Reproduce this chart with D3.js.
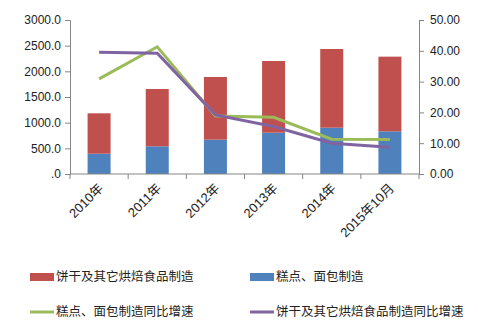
<!DOCTYPE html>
<html><head><meta charset="utf-8">
<script src="https://cdn.jsdelivr.net/npm/d3@7/dist/d3.min.js"></script>
<style>body{margin:0;background:#fff}svg{display:block}text{font-family:"Liberation Sans","Noto Sans CJK SC",sans-serif;fill:#222}</style>
</head><body><svg id="c" width="478" height="334"></svg>
<script>
const categories = ["2010年","2011年","2012年","2013年","2014年","2015年10月"];
const cakeBread = [395, 540, 669, 805, 902, 831];
const biscuitTotal = [1182, 1656, 1890, 2201, 2435, 2286];
const cakeGrowth = [30.9, 41.3, 18.8, 18.4, 11.3, 11.2];
const biscuitGrowth = [39.5, 39.2, 19.2, 15.4, 10.0, 8.7];
const leftTicks = [0,500,1000,1500,2000,2500,3000];
const rightTicks = [0,10,20,30,40,50];
const seriesNames = ["饼干及其它烘焙食品制造","糕点、面包制造","糕点、面包制造同比增速","饼干及其它烘焙食品制造同比增速"];
const colors = {red:"#C0504D", blue:"#4F81BD", green:"#9BBB59", purple:"#8064A2"};

const svg = d3.select("#c");
const xb = d3.scaleBand().domain(categories).range([70,419]);
const yL = d3.scaleLinear().domain([0,3000]).range([174,20]);
const yR = d3.scaleLinear().domain([0,50]).range([174,20]);

// bars
const g = svg.append("g");
categories.forEach((c,i)=>{
  const bx = xb(c)+xb.bandwidth()/2-11.5;
  g.append("rect").attr("x", bx).attr("width",23)
    .attr("y", yL(cakeBread[i])).attr("height", yL(0)-yL(cakeBread[i])).attr("fill",colors.blue);
  g.append("rect").attr("x", bx).attr("width",23)
    .attr("y", yL(biscuitTotal[i])).attr("height", yL(cakeBread[i])-yL(biscuitTotal[i])).attr("fill",colors.red);
});

// axes
const gray = "#868686";
const axL = svg.append("g").attr("transform","translate(70,0)")
  .call(d3.axisLeft(yL).tickValues(leftTicks).tickSize(5).tickPadding(4).tickFormat(d=>d===0?".0":d.toFixed(1)));
const axR = svg.append("g").attr("transform","translate(419,0)")
  .call(d3.axisRight(yR).tickValues(rightTicks).tickSize(5).tickPadding(6).tickFormat(d=>d.toFixed(2)));
[axL,axR].forEach(a=>{a.select(".domain").attr("stroke",gray);a.selectAll(".tick line").attr("stroke",gray);
  a.selectAll("text").style("font-size","12px").attr("fill","#222");});

// x axis line & ticks
svg.append("line").attr("x1",70).attr("x2",419).attr("y1",174).attr("y2",174).attr("stroke",gray);
categories.concat([null]).forEach(c=>{
  const xx = c? xb(c) : 419;
  svg.append("line").attr("x1",xx).attr("x2",xx).attr("y1",174).attr("y2",179).attr("stroke",gray);
});
categories.forEach(c=>{
  const cx = xb(c)+xb.bandwidth()/2+5;
  svg.append("text").attr("transform",`translate(${cx},189) rotate(-45)`)
    .attr("text-anchor","end").style("font-size","13px").text(c);
});

// lines
const line = d3.line().x((d,i)=>xb(categories[i])+xb.bandwidth()/2).y(d=>yR(d));
svg.append("path").datum(cakeGrowth).attr("d",line).attr("fill","none").attr("stroke",colors.green).attr("stroke-width",3);
svg.append("path").datum(biscuitGrowth).attr("d",line).attr("fill","none").attr("stroke",colors.purple).attr("stroke-width",3);

// legend
const leg = [
  {n:seriesNames[0], c:colors.red, t:"rect", x:30, y:277},
  {n:seriesNames[1], c:colors.blue, t:"rect", x:250, y:277},
  {n:seriesNames[2], c:colors.green, t:"line", x:30, y:312},
  {n:seriesNames[3], c:colors.purple, t:"line", x:250, y:312}
];
leg.forEach(l=>{
  if(l.t==="rect") svg.append("rect").attr("x",l.x).attr("y",l.y-4).attr("width",24).attr("height",8).attr("fill",l.c);
  else svg.append("line").attr("x1",l.x).attr("x2",l.x+24).attr("y1",l.y).attr("y2",l.y).attr("stroke",l.c).attr("stroke-width",3);
  svg.append("text").attr("x",l.x+26).attr("y",l.y).attr("dy","0.35em").style("font-size","12.5px").text(l.n);
});
</script></body></html>
